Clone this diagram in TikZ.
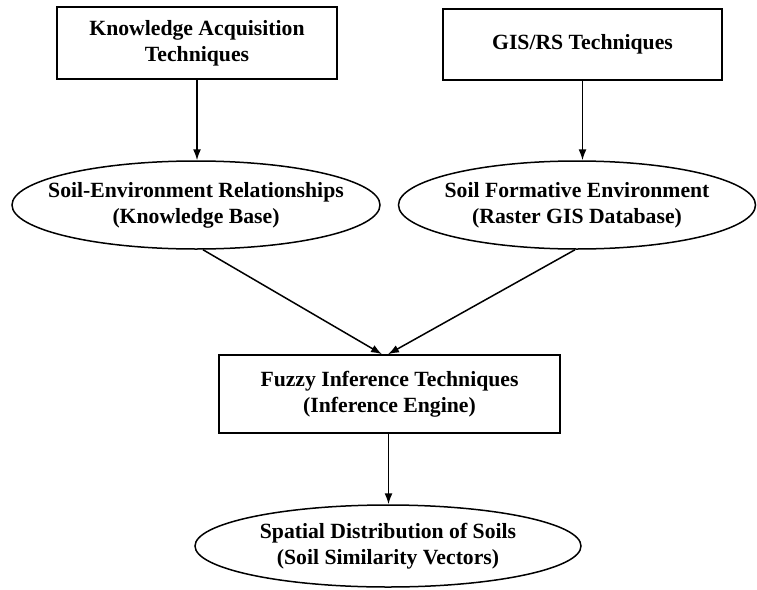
\documentclass[tikz,border=0pt]{standalone}
\usepackage{fontspec}
\setmainfont{Liberation Serif}
\usetikzlibrary{shapes.geometric,arrows.meta}
\begin{document}
\begin{tikzpicture}[x=1pt,y=-1pt,
  txt/.style={font=\fontsize{21.7}{26}\selectfont\bfseries, align=center, inner sep=0pt},
  rbox/.style={txt, rectangle, draw, line width=1.5pt},
  ebox/.style={ellipse, draw, line width=1.5pt, inner sep=0pt},
  arr/.style={line width=1.5pt, -{Latex[length=11pt,width=8pt]}}]
\useasboundingbox (0,0) rectangle (757,589);
\node[rbox, minimum width=280pt, minimum height=72pt] (b1) at (197,43) {Knowledge Acquisition\\Techniques};
\node[rbox, minimum width=279pt, minimum height=71pt] (b2) at (582.5,44.5) {GIS/RS Techniques};
\node[ebox, minimum width=368pt, minimum height=88pt] (e1) at (196,205) {};
\node[txt] (t1) at (e1.center) {Soil-Environment Relationships\\(Knowledge Base)};
\node[ebox, minimum width=357pt, minimum height=88pt] (e2) at (577,205) {};
\node[txt] (t2) at (e2.center) {Soil Formative Environment\\(Raster GIS Database)};
\node[rbox, minimum width=341pt, minimum height=78pt] (b3) at (389.5,394) {Fuzzy Inference Techniques\\(Inference Engine)};
\node[ebox, minimum width=386pt, minimum height=82pt] (e3) at (388,546) {};
\node[txt] (t3) at (e3.center) {Spatial Distribution of Soils\\(Soil Similarity Vectors)};
\draw[arr] (b1.south) -- (b1.south |- e1.north);
\draw[arr] (b2.south) -- (b2.south |- e2.north);
\draw[arr] ([xshift=7pt]e1.south) -- ([xshift=-7.5pt]b3.north);
\draw[arr] ([xshift=-2pt]e2.south) -- ([xshift=-1.5pt]b3.north);
\draw[arr] ([xshift=-1pt]b3.south) -- ([xshift=0.5pt]e3.north);
\end{tikzpicture}
\end{document}
